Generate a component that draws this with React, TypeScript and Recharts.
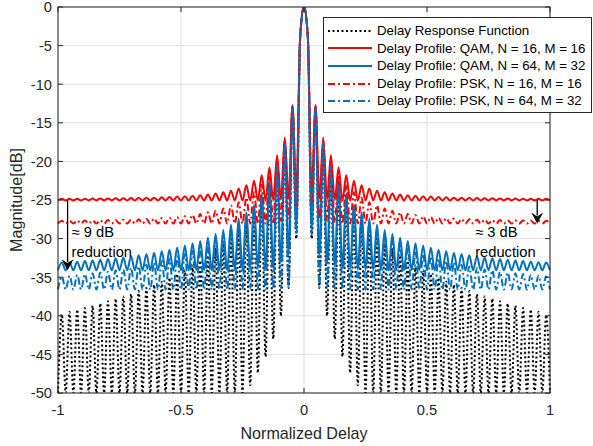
import React from "react";
import {
  LineChart,
  Line,
  XAxis,
  YAxis,
  CartesianGrid,
  ReferenceLine,
  Legend,
} from "recharts";

// 129 samples, one every 1/64 of normalized delay, from -1 to 1 (dB)
const SAMPLES_PER_UNIT = 64;

const delayResponse = [
  -50, -39.8, -50, -39.5, -50, -39.2, -50, -39, -50, -38.7, -50, -38.4, -50, -38.1, -50, -37.8,
  -50, -37.5, -50, -37.2, -50, -36.8, -50, -36.4, -50, -36, -50, -35.6, -50, -35.1, -50, -34.6,
  -50, -34.1, -50, -33.5, -50, -32.9, -50, -32.2, -50, -31.2, -50, -30.4, -50, -29.5, -50, -28.5,
  -50, -27.4, -49, -26.2, -47.4, -24.7, -45.3, -23, -43, -20.7, -40, -17.7, -36.4, -13, -30, -3.9,
  0,
  -3.9, -30, -13, -36.4, -17.7, -40, -20.7, -43, -23, -45.3, -24.7, -47.4, -26.2, -49, -27.4, -50,
  -28.5, -50, -29.5, -50, -30.4, -50, -31.2, -50, -32.2, -50, -32.9, -50, -33.5, -50, -34.1, -50,
  -34.6, -50, -35.1, -50, -35.6, -50, -36, -50, -36.4, -50, -36.8, -50, -37.2, -50, -37.5, -50,
  -37.8, -50, -38.1, -50, -38.4, -50, -38.7, -50, -39, -50, -39.2, -50, -39.5, -50, -39.9, -50,
];

const qam16 = [
  -25.05, -24.85, -25.05, -24.85, -25.05, -24.84, -25.05, -24.83, -25.05, -24.82, -25.05, -24.8, -25.05, -24.8, -25.05, -24.78,
  -25.05, -24.76, -25.05, -24.74, -25.05, -24.72, -25.05, -24.7, -25.05, -24.7, -25.05, -24.65, -25.05, -24.6, -25.05, -24.55,
  -25.05, -24.5, -25.05, -24.45, -25.05, -24.4, -25.05, -24.3, -25.05, -24.15, -25.05, -24, -25.05, -23.8, -25.05, -23.5,
  -25.05, -23.1, -25.05, -22.5, -25.05, -21.8, -25.05, -20.8, -25, -19.2, -24.95, -16.9, -24.8, -12.7, -23.9, -3.9,
  0,
  -3.9, -23.9, -12.7, -24.8, -16.9, -24.95, -19.2, -25, -20.8, -25.05, -21.8, -25.05, -22.5, -25.05, -23.1, -25.05,
  -23.5, -25.05, -23.8, -25.05, -24, -25.05, -24.15, -25.05, -24.3, -25.05, -24.4, -25.05, -24.45, -25.05, -24.5, -25.05,
  -24.55, -25.05, -24.6, -25.05, -24.65, -25.05, -24.7, -25.05, -24.7, -25.05, -24.72, -25.05, -24.74, -25.05, -24.76, -25.05,
  -24.78, -25.05, -24.8, -25.05, -24.8, -25.05, -24.82, -25.05, -24.83, -25.05, -24.84, -25.05, -24.85, -25.05, -24.85, -25.05,
];

const qam64 = [
  -34.1, -33.1, -34.1, -33.05, -34.1, -33, -34.1, -32.9, -34.1, -32.85, -34.1, -32.75, -34.1, -32.65, -34.1, -32.55,
  -34.1, -32.45, -34.1, -32.3, -34.1, -32.15, -34.1, -32, -34.1, -31.85, -34.1, -31.65, -34.1, -31.45, -34.1, -31.2,
  -34.1, -30.9, -34.1, -30.6, -34.1, -30.3, -34.1, -29.9, -34.1, -29.4, -34.1, -28.9, -34.1, -28.2, -34.1, -27.4,
  -34.1, -26.6, -34, -25.6, -33.9, -24.2, -33.8, -22.7, -33.6, -20.5, -33.1, -17.6, -32.1, -13, -28.6, -3.9,
  0,
  -3.9, -28.6, -13, -32.1, -17.6, -33.1, -20.5, -33.6, -22.7, -33.8, -24.2, -33.9, -25.6, -34, -26.6, -34.1,
  -27.4, -34.1, -28.2, -34.1, -28.9, -34.1, -29.4, -34.1, -29.9, -34.1, -30.3, -34.1, -30.6, -34.1, -30.9, -34.1,
  -31.2, -34.1, -31.45, -34.1, -31.65, -34.1, -31.85, -34.1, -32, -34.1, -32.15, -34.1, -32.3, -34.1, -32.45, -34.1,
  -32.55, -34.1, -32.65, -34.1, -32.75, -34.1, -32.85, -34.1, -32.9, -34.1, -33, -34.1, -33.05, -34.1, -33.1, -34.1,
];

const psk16 = [
  -28.05, -27.7, -28.05, -27.68, -28.05, -27.66, -28.05, -27.65, -28.05, -27.64, -28.05, -27.62, -28.05, -27.6, -28.05, -27.6,
  -28.05, -27.55, -28.05, -27.55, -28.05, -27.5, -28.05, -27.45, -28.05, -27.4, -28.05, -27.35, -28.05, -27.3, -28.05, -27.2,
  -28.05, -27.1, -28.05, -26.95, -28.05, -26.8, -28.05, -26.6, -28.05, -26.4, -28.05, -26.1, -28.05, -25.7, -28.05, -25.3,
  -28.05, -24.7, -28.05, -24, -28.05, -23, -28.05, -21.8, -27.9, -20, -27.7, -17.3, -27.4, -12.9, -25.9, -3.9,
  0,
  -3.9, -25.9, -12.9, -27.4, -17.3, -27.7, -20, -27.9, -21.8, -28.05, -23, -28.05, -24, -28.05, -24.7, -28.05,
  -25.3, -28.05, -25.7, -28.05, -26.1, -28.05, -26.4, -28.05, -26.6, -28.05, -26.8, -28.05, -26.95, -28.05, -27.1, -28.05,
  -27.2, -28.05, -27.3, -28.05, -27.35, -28.05, -27.4, -28.05, -27.45, -28.05, -27.5, -28.05, -27.55, -28.05, -27.55, -28.05,
  -27.6, -28.05, -27.6, -28.05, -27.62, -28.05, -27.64, -28.05, -27.65, -28.05, -27.66, -28.05, -27.68, -28.05, -27.7, -28.05,
];

const psk64 = [
  -36.6, -34.9, -36.6, -34.8, -36.6, -34.7, -36.6, -34.6, -36.6, -34.5, -36.6, -34.4, -36.6, -34.3, -36.6, -34.1,
  -36.6, -34, -36.6, -33.8, -36.6, -33.6, -36.6, -33.4, -36.6, -33.1, -36.6, -32.9, -36.6, -32.6, -36.6, -32.3,
  -36.6, -32, -36.6, -31.6, -36.6, -31.1, -36.6, -30.6, -36.6, -30.1, -36.6, -29.5, -36.6, -28.7, -36.6, -27.9,
  -36.6, -26.9, -36.6, -25.8, -36.6, -24.4, -36.6, -22.8, -36.5, -20.6, -36.4, -17.6, -36.2, -13, -29.5, -3.9,
  0,
  -3.9, -29.5, -13, -36.2, -17.6, -36.4, -20.6, -36.5, -22.8, -36.6, -24.4, -36.6, -25.8, -36.6, -26.9, -36.6,
  -27.9, -36.6, -28.7, -36.6, -29.5, -36.6, -30.1, -36.6, -30.6, -36.6, -31.1, -36.6, -31.6, -36.6, -32, -36.6,
  -32.3, -36.6, -32.6, -36.6, -32.9, -36.6, -33.1, -36.6, -33.4, -36.6, -33.6, -36.6, -33.8, -36.6, -34, -36.6,
  -34.1, -36.6, -34.3, -36.6, -34.4, -36.6, -34.5, -36.6, -34.6, -36.6, -34.7, -36.6, -34.8, -36.6, -34.9, -36.6,
];

const X_TICKS = [-1, -0.5, 0, 0.5, 1];
const Y_TICKS = [0, -5, -10, -15, -20, -25, -30, -35, -40, -45, -50];

const SERIES = [
  { key: "response", name: "Delay Response Function", values: delayResponse, color: "#000000", dash: "2 2.5" },
  { key: "qam16", name: "Delay Profile: QAM, N = 16, M = 16", values: qam16, color: "#ff0000", dash: undefined },
  { key: "qam64", name: "Delay Profile: QAM, N = 64, M = 32", values: qam64, color: "#0072bd", dash: undefined },
  { key: "psk16", name: "Delay Profile: PSK, N = 16, M = 16", values: psk16, color: "#ff0000", dash: "7 3 2 3" },
  { key: "psk64", name: "Delay Profile: PSK, N = 64, M = 32", values: psk64, color: "#0072bd", dash: "7 3 2 3" },
];

const ANNOTATIONS = [
  { delay: -0.961, from: -25, to: -34.1, text: ["≈ 9 dB", "reduction"], textDx: 4 },
  { delay: 0.948, from: -25, to: -28.05, text: ["≈ 3 dB", "reduction"], textDx: -62 },
];

const data = delayResponse.map((_, i) => {
  const row: Record<string, number> = { delay: i / SAMPLES_PER_UNIT - 1 };
  SERIES.forEach((s) => {
    row[s.key] = s.values[i];
  });
  return row;
});

const W = 593;
const H = 446;
const MARGIN = { top: 7, right: 43, bottom: 0, left: 0 };
const Y_AXIS_W = 58;
const X_AXIS_H = 53;
const PLOT_LEFT = MARGIN.left + Y_AXIS_W;
const PLOT_RIGHT = W - MARGIN.right;
const PLOT_TOP = MARGIN.top;
const PLOT_BOTTOM = H - MARGIN.bottom - X_AXIS_H;

const FONT = "'Liberation Sans', Arial, Helvetica, sans-serif";
const AXIS = "#262626";

function YTick(props: any) {
  const { x, y, payload } = props;
  return (
    <g>
      <line x1={PLOT_LEFT} x2={PLOT_LEFT + 5} y1={y} y2={y} stroke={AXIS} />
      <line x1={PLOT_RIGHT - 5} x2={PLOT_RIGHT} y1={y} y2={y} stroke={AXIS} />
      <text x={x} y={y} dy={5.3} textAnchor="end" fill={AXIS} fontSize={14.7} fontFamily={FONT}>
        {payload.value}
      </text>
    </g>
  );
}

function XTick(props: any) {
  const { x, y, payload } = props;
  return (
    <g>
      <line x1={x} x2={x} y1={PLOT_BOTTOM} y2={PLOT_BOTTOM - 5} stroke={AXIS} />
      <line x1={x} x2={x} y1={PLOT_TOP} y2={PLOT_TOP + 5} stroke={AXIS} />
      <text x={x} y={y} dy={16} textAnchor="middle" fill={AXIS} fontSize={14.7} fontFamily={FONT}>
        {payload.value}
      </text>
    </g>
  );
}

function arrowShape(a: (typeof ANNOTATIONS)[number]) {
  return (props: any) => {
    const { x1, y1, x2, y2 } = props;
    const head = 11;
    const half = 6;
    return (
      <g>
        <line x1={x1} y1={y1} x2={x2} y2={y2 - head + 3} stroke="#000" strokeWidth={1.3} />
        <polygon
          points={`${x2},${y2} ${x2 - half},${y2 - head} ${x2},${y2 - head + 4} ${x2 + half},${y2 - head}`}
          fill="#000"
        />
        {a.text.map((t, k) => (
          <text
            key={t}
            x={x1 + a.textDx}
            y={y1 + 37 + k * 20}
            fill="#000"
            fontSize={14.7}
            fontFamily={FONT}
          >
            {t}
          </text>
        ))}
      </g>
    );
  };
}

function LegendBox() {
  return (
    <div
      style={{
        border: `1px solid ${AXIS}`,
        background: "#fff",
        padding: "4px 0 2px 0",
        width: 269,
        boxSizing: "border-box",
        fontFamily: FONT,
      }}
    >
      {SERIES.map((s) => (
        <div key={s.key} style={{ display: "flex", alignItems: "center", height: 17.6 }}>
          <svg width={53} height={10} style={{ flex: "none" }}>
            <line x1={4} x2={48} y1={5} y2={5} stroke={s.color} strokeWidth={2} strokeDasharray={s.dash} />
          </svg>
          <span style={{ fontSize: 13.3, color: "#000", whiteSpace: "nowrap", lineHeight: "17.6px" }}>
            {s.name}
          </span>
        </div>
      ))}
    </div>
  );
}

export default function App() {
  return (
    <div style={{ position: "absolute", left: 0, top: 0, width: W, height: H, background: "#fff", fontFamily: FONT }}>
      <LineChart width={W} height={H} data={data} margin={MARGIN}>
        <CartesianGrid stroke="#dfdfdf" strokeWidth={1} />
        <XAxis
          dataKey="delay"
          type="number"
          domain={[-1, 1]}
          ticks={X_TICKS}
          interval={0}
          height={X_AXIS_H}
          tickSize={4}
          tickMargin={2}
          tickLine={false}
          axisLine={{ stroke: AXIS }}
          tick={<XTick />}
          label={{
            value: "Normalized Delay",
            position: "insideBottom",
            offset: 7,
            style: { fontSize: 16.1, fill: AXIS, fontFamily: FONT },
          }}
        />
        <YAxis
          type="number"
          domain={[-50, 0]}
          ticks={Y_TICKS}
          interval={0}
          width={Y_AXIS_W}
          tickSize={4}
          tickMargin={2}
          tickLine={false}
          axisLine={{ stroke: AXIS }}
          tick={<YTick />}
          allowDataOverflow
          label={{
            value: "Magnitude[dB]",
            angle: -90,
            position: "insideLeft",
            offset: 16,
            style: { textAnchor: "middle", fontSize: 16.1, fill: AXIS, fontFamily: FONT },
          }}
        />
        {SERIES.map((s) => (
          <Line
            key={s.key}
            dataKey={s.key}
            name={s.name}
            type="monotone"
            stroke={s.color}
            strokeWidth={2}
            strokeDasharray={s.dash}
            dot={false}
            activeDot={false}
            isAnimationActive={false}
          />
        ))}
        <ReferenceLine y={0} stroke={AXIS} />
        <ReferenceLine x={1} stroke={AXIS} />
        {ANNOTATIONS.map((a) => (
          <ReferenceLine
            key={a.text[0]}
            segment={[
              { x: a.delay, y: a.from },
              { x: a.delay, y: a.to },
            ]}
            shape={arrowShape(a)}
          />
        ))}
        <Legend
          layout="vertical"
          align="center"
          verticalAlign="middle"
          content={() => <LegendBox />}
          wrapperStyle={{ left: 323, top: 17, width: 269, height: "auto" }}
        />
      </LineChart>
    </div>
  );
}
